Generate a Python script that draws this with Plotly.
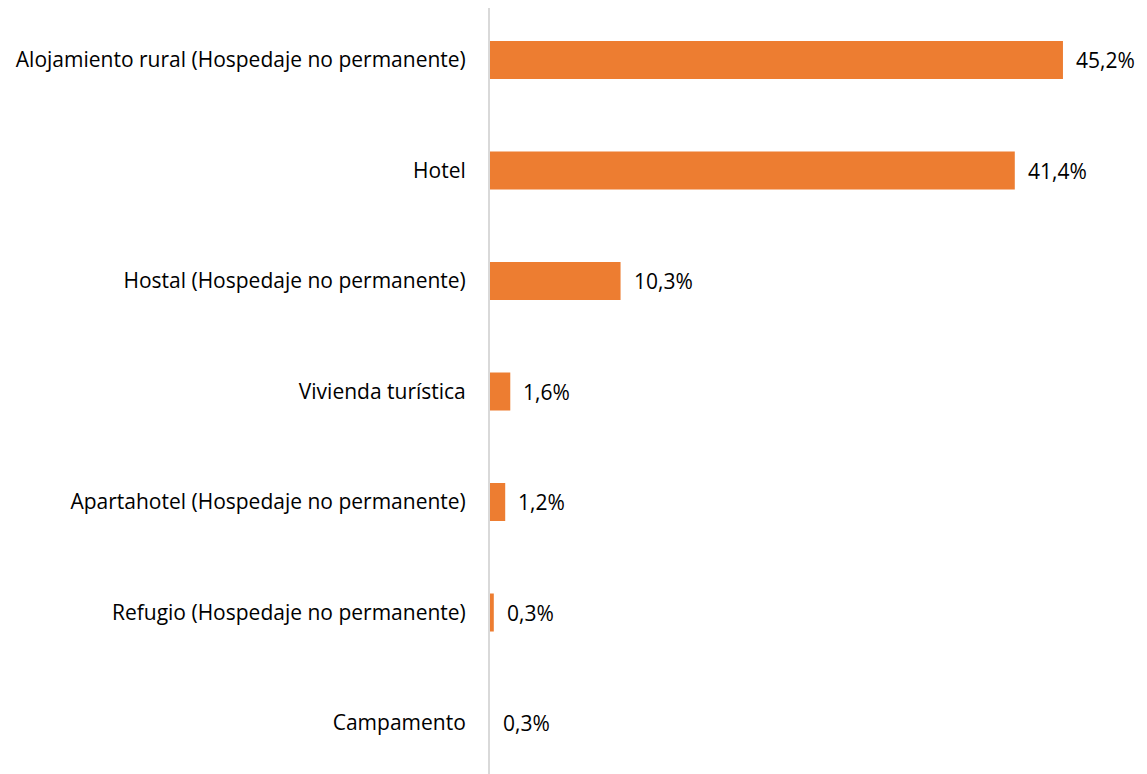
import plotly.graph_objects as go

categories = [
    "Alojamiento rural (Hospedaje no permanente)",
    "Hotel",
    "Hostal (Hospedaje no permanente)",
    "Vivienda turística",
    "Apartahotel (Hospedaje no permanente)",
    "Refugio (Hospedaje no permanente)",
    "Campamento",
]
values = [45.2, 41.4, 10.3, 1.6, 1.2, 0.3, 0.0]
value_labels = ["45,2%", "41,4%", "10,3%", "1,6%", "1,2%", "0,3%", "0,3%"]

FONT = "Open Sans"
FSIZE = 21

fig = go.Figure(go.Bar(
    x=values, y=categories, orientation="h",
    marker=dict(color="#ED7D31", line=dict(width=0)),
    hoverinfo="skip",
))

for c, v, t in zip(categories, values, value_labels):
    fig.add_annotation(x=v, y=c, text=t, showarrow=False, xanchor="left",
                       xshift=11, font=dict(family=FONT, size=FSIZE, color="#000000"))

# page body has an 8px margin, so the figure is sized to fit the window
fig.update_layout(
    width=1139, height=766,
    margin=dict(l=482, r=0, t=0, b=0, autoexpand=False),
    paper_bgcolor="white", plot_bgcolor="white",
    bargap=0.656,
    showlegend=False,
    font=dict(family=FONT, size=FSIZE, color="#000000"),
)
fig.update_xaxes(range=[0, 51.83], visible=False, showgrid=False, zeroline=False)
fig.update_yaxes(range=[6.4615, -0.4706], showline=True, linecolor="#D9D9D9", linewidth=2,
                 ticks="", showgrid=False, ticklabelstandoff=18, automargin=False,
                 tickfont=dict(family=FONT, size=FSIZE, color="#000000"))

fig.write_html("out.html")
